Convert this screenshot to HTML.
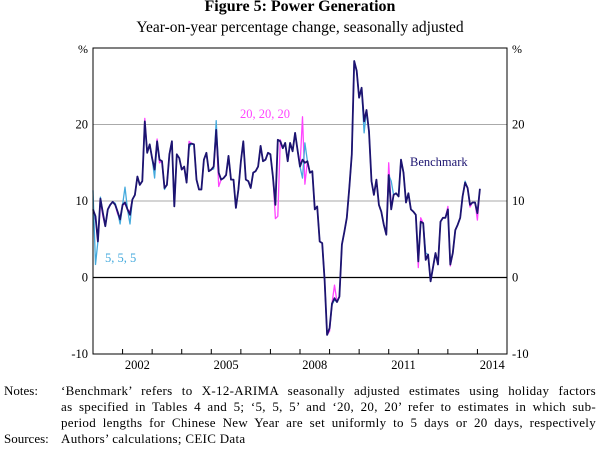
<!DOCTYPE html>
<html><head><meta charset="utf-8"><style>
body{margin:0;width:600px;height:450px;background:#fff;font-family:"Liberation Serif",serif;position:relative;overflow:hidden}
.t{position:absolute;white-space:nowrap;color:#000}
.nl{position:absolute;left:61px;width:535px;font-size:13px;letter-spacing:0.3px;text-align:justify;text-align-last:justify;white-space:nowrap}
</style></head><body>
<div class="t" style="left:0;width:600px;text-align:center;top:-2px;font-size:16px;font-weight:bold">Figure 5: Power Generation</div>
<div class="t" style="left:0;width:600px;text-align:center;top:19px;font-size:15.5px">Year-on-year percentage change, seasonally adjusted</div>
<svg id="c" width="600" height="380" style="position:absolute;left:0;top:0"></svg>
<div class="t" style="left:4px;top:383px;font-size:13px">Notes:</div>
<div class="nl" style="top:383px">‘Benchmark’ refers to X-12-ARIMA seasonally adjusted estimates using holiday factors</div>
<div class="nl" style="top:399px">as specified in Tables 4 and 5; ‘5, 5, 5’ and ‘20, 20, 20’ refer to estimates in which sub-</div>
<div class="nl" style="top:415px">period lengths for Chinese New Year are set uniformly to 5 days or 20 days, respectively</div>
<div class="t" style="left:4px;top:431px;font-size:13px">Sources:</div>
<div class="t" style="left:61px;top:431px;font-size:13px;letter-spacing:0.3px">Authors’ calculations; CEIC Data</div>
<script>
const yTicks=[-10,0,10,20];
const yearLabels=[2002,2005,2008,2011,2014];
const benchmark=[8.9,8.0,4.7,10.3,8.4,6.7,8.9,9.5,9.9,9.5,8.6,7.6,
9.5,9.8,8.9,8.2,10.2,10.8,13.2,12.1,12.6,20.4,16.3,17.4,
15.6,14.1,17.8,15.4,15.2,11.7,12.1,16.1,17.8,9.3,16.1,15.6,
14.1,14.5,12.4,17.4,17.5,17.4,12.8,11.5,11.5,15.4,16.3,13.9,
14.1,14.5,19.3,13.7,12.8,13.0,13.4,15.9,12.8,12.8,9.1,11.5,
15.2,17.8,12.8,12.6,11.7,13.7,13.9,14.5,17.2,15.2,15.4,16.3,
16.1,13.2,9.5,18.0,17.8,16.9,17.6,15.2,17.6,16.5,18.9,16.7,
14.5,15.4,15.0,15.2,13.7,13.9,8.9,9.3,4.7,4.5,-0.3,-7.5,
-6.6,-3.4,-2.7,-3.2,-2.5,4.3,6.0,7.8,11.7,16.1,28.3,27.0,
23.5,24.8,20.4,21.9,19.1,12.6,10.8,12.8,9.5,8.6,6.9,5.6,
13.4,8.9,10.8,11.0,10.6,15.4,13.7,9.8,11.0,8.9,8.6,8.2,
2.1,7.3,7.1,2.3,3.0,-0.5,1.4,3.2,1.7,7.3,7.8,7.8,
8.9,1.7,3.2,6.2,6.9,7.8,10.6,12.4,11.7,9.5,9.8,9.8,
8.4,11.6];
const days20=[7.3,8.0,4.7,10.0,8.0,6.7,8.9,9.5,9.9,9.5,8.3,7.6,
9.5,9.6,8.9,8.6,10.2,10.8,13.2,12.1,12.6,20.8,16.3,17.4,
15.6,14.1,18.1,15.0,15.2,11.7,12.1,16.1,17.8,9.3,16.1,15.6,
14.1,14.3,12.4,17.8,17.5,17.4,12.8,11.5,11.5,15.4,16.3,13.9,
14.1,14.5,19.3,11.9,12.8,13.0,13.4,15.9,12.8,12.8,9.1,11.5,
15.2,17.8,12.8,12.6,11.7,13.7,13.9,14.5,17.2,15.2,15.4,16.3,
16.1,13.2,7.7,8.0,18.0,16.9,17.6,15.2,17.6,16.5,18.9,16.7,
14.5,21.0,12.2,15.2,13.7,13.9,8.9,9.3,4.7,4.5,-0.3,-7.5,
-7.0,-3.4,-1.0,-3.2,-2.5,4.3,6.0,7.8,11.7,16.1,28.3,27.0,
23.5,24.8,20.4,21.9,19.1,12.6,10.8,12.8,9.5,8.6,6.9,5.6,
15.0,9.3,10.8,11.0,10.6,15.4,13.7,9.8,11.0,8.9,8.6,8.2,
1.3,7.8,7.1,2.3,3.0,-0.5,1.4,3.2,1.7,7.3,7.8,7.8,
9.3,1.5,3.2,6.2,6.9,7.8,10.6,12.4,11.7,9.2,9.8,9.8,
7.5,11.6];
const days5=[11.4,1.7,4.7,10.5,8.4,6.7,8.9,9.5,9.9,9.7,8.6,7.0,
9.5,11.8,8.9,7.0,10.2,10.8,13.2,12.1,12.6,20.0,16.3,17.4,
15.6,13.0,17.6,15.4,15.2,11.5,12.1,16.1,17.8,9.3,16.1,15.6,
14.1,14.5,12.4,17.0,17.5,17.4,12.8,11.5,11.5,15.4,16.3,13.9,
14.1,14.2,20.5,13.7,12.8,13.0,13.4,15.9,12.8,12.8,9.1,11.5,
15.2,17.8,12.8,12.6,11.7,13.7,13.9,14.5,17.2,15.2,15.4,16.3,
16.1,13.2,9.5,18.0,17.8,16.9,17.6,15.2,17.6,16.5,18.9,16.7,
14.5,13.0,17.6,15.2,13.7,13.9,8.9,9.3,4.7,4.5,-0.3,-7.5,
-6.6,-3.6,-2.9,-3.2,-2.5,4.3,6.0,7.8,11.7,16.1,28.3,27.0,
23.5,24.8,18.9,21.9,19.1,12.6,10.8,12.8,9.5,8.6,6.9,5.6,
13.4,12.6,10.8,11.0,10.6,15.4,13.7,9.8,11.0,8.9,8.6,8.2,
2.3,7.3,7.1,3.2,3.0,-0.5,1.4,3.2,1.7,7.3,7.8,7.8,
8.9,1.7,3.2,6.2,6.9,7.8,10.6,12.6,11.7,9.5,9.8,9.8,
8.4,11.6];
const L=93,R=507,T=48,B=354,x0=2001,x1=2015,ymin=-10,ymax=30;
const X=t=>L+(t-x0)/(x1-x0)*(R-L);
const Y=v=>B-(v-ymin)/(ymax-ymin)*(B-T);
const svg=document.getElementById('c');const NS='http://www.w3.org/2000/svg';
function mk(tag,at){const e=document.createElementNS(NS,tag);for(const k in at)e.setAttribute(k,at[k]);svg.appendChild(e);return e;}
yTicks.forEach(v=>{
 if(v>ymin){const g=mk('line',{x1:L,x2:R,y1:Y(v),y2:Y(v),stroke:v===0?'#000':'#aaa','stroke-width':v===0?1.2:1});
 
 }
 const a=mk('text',{x:88,y:Y(v)+4,'text-anchor':'end','font-size':12.5,'font-family':'Liberation Serif'});a.textContent=v;
 
 
 const b=mk('text',{x:512,y:Y(v)+4,'font-size':12.5,'font-family':'Liberation Serif'});b.textContent=v;
 
 
});
[[78,'left'],[512,'right']].forEach(([x,s])=>{const p=mk('text',{x:x,y:T+5,'font-size':12,'font-family':'Liberation Serif'});p.textContent='%';
 
 });
for(let yr=x0+1;yr<x1;yr++){const tk=mk('line',{x1:X(yr),x2:X(yr),y1:B,y2:B-5,stroke:'#000'});
 
 }
yearLabels.forEach(yr=>{const t=mk('text',{x:X(yr+0.5),y:B+15,'text-anchor':'middle','font-size':12.5,'font-family':'Liberation Serif'});t.textContent=yr;
 
 });
function line(arr,col,w,name){const d=arr.map((v,i)=>(i?'L':'M')+X(x0+i/12).toFixed(1)+','+Y(v).toFixed(1)).join('');
 const p=mk('path',{d:d,fill:'none',stroke:col,'stroke-width':w,'stroke-linejoin':'round'});
 
 }
line(days20,'#ff44ff',1.3,'series-20-20-20');
line(days5,'#44aadd',1.3,'series-5-5-5');
line(benchmark,'#1c1470',1.8,'series-benchmark');
mk('rect',{x:L,y:T,width:R-L,height:B-T,fill:'none',stroke:'#000','stroke-width':1});
[['20, 20, 20',240,118,'#ff44ff','label-20-20-20'],['5, 5, 5',105,262,'#44aadd','label-5-5-5'],['Benchmark',410,166,'#1c1470','label-benchmark']].forEach(([s,x,y,c,n])=>{
 const t=mk('text',{x:x,y:y,fill:c,'font-size':12.5,'font-family':'Liberation Serif'});t.textContent=s;
 
 });
</script>
</body></html>
